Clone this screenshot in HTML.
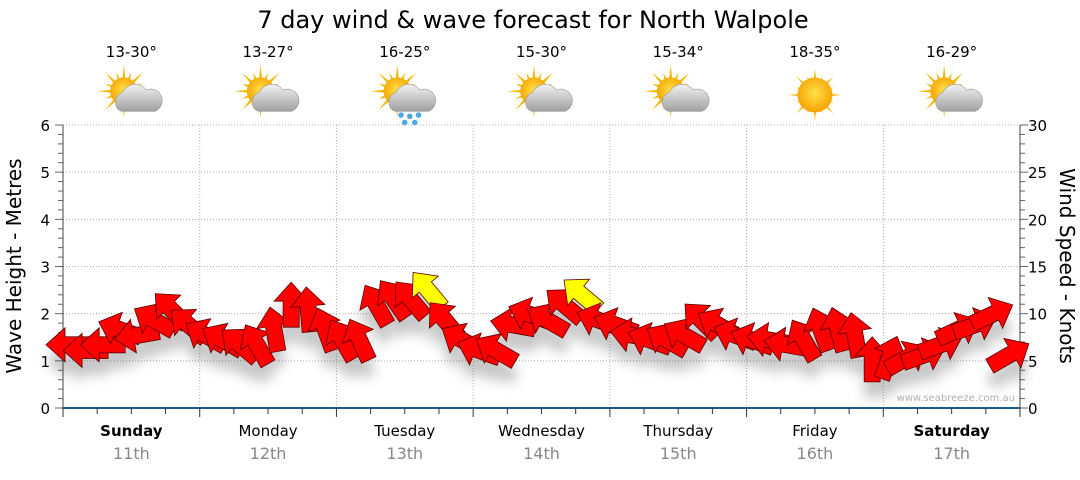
<!DOCTYPE html>
<html><head><meta charset="utf-8"><style>
body{margin:0;background:#fff;width:1080px;height:475px;overflow:hidden;font-family:"Liberation Sans","DejaVu Sans",sans-serif}
svg text{font-family:"DejaVu Sans","Liberation Sans",sans-serif}
</style></head><body>
<svg id="c" width="1080" height="475">
<defs>
<filter id="sh" x="-50%" y="-50%" width="200%" height="200%"><feGaussianBlur stdDeviation="6"/></filter>
<radialGradient id="sun" cx="50%" cy="45%" r="55%"><stop offset="0" stop-color="#ffe04a"/><stop offset="1" stop-color="#f6a300"/></radialGradient>
<linearGradient id="cl" x1="0" y1="0" x2="0" y2="1"><stop offset="0" stop-color="#f2f2f2"/><stop offset="1" stop-color="#a0a0a0"/></linearGradient>
</defs>
<text x="533" y="28" text-anchor="middle" font-size="24" fill="#000">7 day wind &amp; wave forecast for North Walpole</text>
<g id="grid"></g><g id="axes"></g><g id="icons"></g><g id="shadows" filter="url(#sh)" opacity="0.3"></g><g id="arrows"></g>
<text x="1015" y="401" text-anchor="end" font-size="10" fill="#b0b0b0">www.seabreeze.com.au</text>
<text transform="translate(21,266) rotate(-90)" text-anchor="middle" font-size="20">Wave Height - Metres</text>
<text transform="translate(1060,266) rotate(90)" text-anchor="middle" font-size="20">Wind Speed - Knots</text>
</svg>
<script>
const days=["Sunday","Monday","Tuesday","Wednesday","Thursday","Friday","Saturday"];
const dates=["11th","12th","13th","14th","15th","16th","17th"];
const temps=["13-30°","13-27°","16-25°","15-30°","15-34°","18-35°","16-29°"];
const icons=["cloud","cloud","rain","cloud","cloud","sun","cloud"];
const waveTicks=[0,1,2,3,4,5,6];
const windTicks=[0,5,10,15,20,25,30];
const windSpeed=[6.7,6.1,6.7,8.3,7.7,9.3,10.4,8.8, 7.7,7.2,6.7,6.7,8.3,10.9,10.4,8.3, 7.2,7.2,10.9,11.5,11.5,12.5,9.3,7.2, 6.1,6.1,8.8,9.9,9.3,10.9,12,9.3, 8.8,7.7,7.2,7.2,7.7,9.3,8.8,7.7, 7.2,7.2,6.7,7.2,8.3,8.3,7.7,5.1, 5.3,5.3,5.6,6.7,8.3,8.8,9.9,5.6];
const windDir=[180,180,180,160,190,150,135,140, 150,150,140,120,100,90,95,110, 120,115,120,125,130,130,130,150, 160,150,170,160,150,140,140,160, 160,170,160,150,150,135,150,160, 160,170,170,120,110,105,100,90, 70,30,20,20,25,20,25,30];
const yellow=[21,30];
const X0=63,X1=1020,Y0=408,YT=125,NS="http://www.w3.org/2000/svg";
const dayW=(X1-X0)/7;
const yW=m=>Y0-(m/6)*(Y0-YT), yK=k=>Y0-(k/30)*(Y0-YT), xI=i=>X0+i*dayW/8+6;
function mk(t,a,p){const e=document.createElementNS(NS,t);for(const k in a)e.setAttribute(k,a[k]);(p||document.getElementById('axes')).appendChild(e);return e;}
const G=document.getElementById('grid');
waveTicks.forEach(v=>{if(v>0){const l=mk('line',{x1:X0,x2:X1,y1:yW(v),y2:yW(v),stroke:'#aaa','stroke-dasharray':'1,2'},G);}
 const t=mk('text',{x:50,y:yW(v)+6,'text-anchor':'end','font-size':15});t.textContent=v;});
for(let v=0;v<=6.001;v+=0.2){mk('line',{x1:X0-(Math.abs(v-Math.round(v))<0.01?8:5),x2:X0,y1:yW(v),y2:yW(v),stroke:'#666'});}
windTicks.forEach(v=>{const t=mk('text',{x:1028,y:yK(v)+6,'font-size':15});t.textContent=v;});
for(let v=0;v<=30;v+=1){mk('line',{x1:X1,x2:X1+(v%5==0?8:5),y1:yK(v),y2:yK(v),stroke:'#666'});}
mk('line',{x1:X0,x2:X0,y1:YT,y2:Y0,stroke:'#444'});mk('line',{x1:X1,x2:X1,y1:YT,y2:Y0,stroke:'#444'});
mk('line',{x1:X0,x2:X1,y1:Y0,y2:Y0,stroke:'#1f5a8a','stroke-width':2});
for(let i=0;i<=28;i++){const x=X0+i*dayW/4;mk('line',{x1:x,x2:x,y1:Y0,y2:Y0+(i%4==0?9:6),stroke:'#333'});}
days.forEach((d,k)=>{const cx=X0+dayW*(k+0.5);
 if(k>0){const l=mk('line',{x1:X0+dayW*k,x2:X0+dayW*k,y1:YT,y2:Y0,stroke:'#aaa','stroke-dasharray':'1,2'},G);}
 let t=mk('text',{x:cx,y:436,'text-anchor':'middle','font-size':15,'font-weight':(k==0||k==6)?'bold':'normal'});t.textContent=d;
 t=mk('text',{x:cx,y:459,'text-anchor':'middle','font-size':16,fill:'#888'});t.textContent=dates[k];
 t=mk('text',{x:cx,y:57,'text-anchor':'middle','font-size':15});t.textContent=temps[k];
 const g=mk('g',{transform:`translate(${cx},95) scale(1.25)`},document.getElementById('icons'));
 const sx=icons[k]=='sun'?0:-6, sy=icons[k]=='sun'?0:-3;
 for(let a=0;a<16;a++){const r=a*Math.PI/8,l=a%2?16:21;mk('polygon',{points:`${sx+Math.cos(r-0.15)*9},${sy+Math.sin(r-0.15)*9} ${sx+Math.cos(r)*l},${sy+Math.sin(r)*l} ${sx+Math.cos(r+0.15)*9},${sy+Math.sin(r+0.15)*9}`,fill:'#f5b800'},g);}
 mk('circle',{cx:sx,cy:sy,r:icons[k]=='sun'?14:11,fill:'url(#sun)'},g);
 if(icons[k]!='sun'){mk('path',{d:'M-8,13 a8,8 0 0 1 1,-15 a11,11 0 0 1 19,-2 a8,8 0 0 1 7,17 z',fill:'url(#cl)',stroke:'#999','stroke-width':0.5},g);}
 if(icons[k]=='rain'){[[-3,16],[4,17],[11,16],[0,22],[8,22]].forEach(p=>mk('circle',{cx:p[0],cy:p[1],r:2.2,fill:'#4aa8e8'},g));}
});
const A=document.getElementById('arrows'),S=document.getElementById('shadows');
const shape='M-22,-8 L4,-8 L4,-17 L23,0 L4,17 L4,8 L-22,8 Z';
windSpeed.forEach((v,i)=>{const x=xI(i),y=yK(v);
 mk('path',{d:shape,transform:`translate(${x},${y+16}) rotate(${-windDir[i]})`,fill:'#444'},S);});
windSpeed.forEach((v,i)=>{const x=xI(i),y=yK(v);
 const p=mk('path',{d:shape,transform:`translate(${x},${y}) rotate(${-windDir[i]})`,fill:yellow.includes(i)?'#ffff00':'#ff0000',stroke:'#5a0000','stroke-width':0.8},A);
 });
</script>
</body></html>
